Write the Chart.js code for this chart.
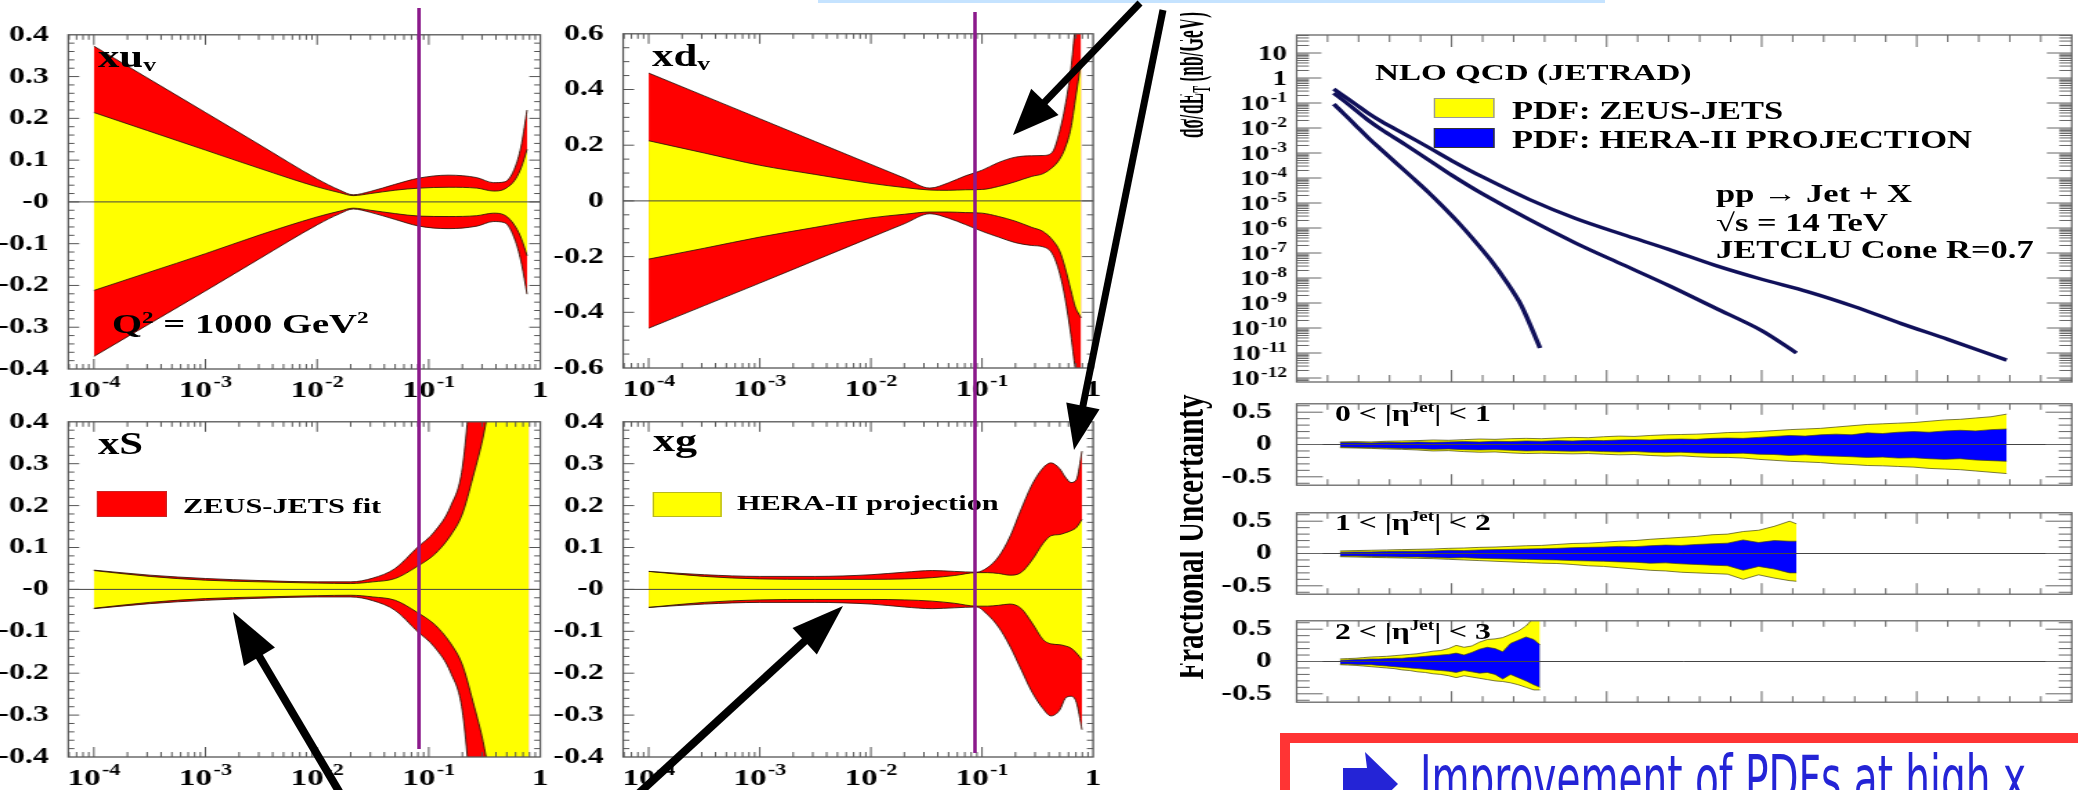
<!DOCTYPE html>
<html><head><meta charset="utf-8">
<script src="https://cdn.jsdelivr.net/npm/chart.js@4.4.1/dist/chart.umd.min.js"></script>
<style>
html,body{margin:0;padding:0;background:#fff;width:2078px;height:790px;overflow:hidden;position:relative;}
#wrap{position:absolute;left:0;top:0;height:790px;transform-origin:0 0;}
.box{position:absolute;}
.t{position:absolute;font-family:'Liberation Serif','Times New Roman',serif;font-weight:bold;color:#000;white-space:nowrap;line-height:1;}
.t sup{font-size:60%;vertical-align:0.6em;line-height:0;}
.t sub{font-size:60%;vertical-align:-0.25em;line-height:0;}
#ov{position:absolute;left:0;top:0;pointer-events:none;}
</style></head><body>
<div id="wrap"></div>
<div style="position:absolute;left:818px;top:0;width:787px;height:3px;background:#c5e3ff"></div>
<div id="redbox" style="position:absolute;left:1280px;top:733px;width:830px;height:120px;border:10px solid #ff3434;background:#fff;box-sizing:border-box"></div>
<div id="imp" style="position:absolute;left:1420px;top:747px;font-family:'DejaVu Sans Condensed','DejaVu Sans',sans-serif;font-size:64px;line-height:1;color:#2424d6;white-space:nowrap;transform-origin:0 0;">Improvement of PDFs at high x</div>
<svg id="ov" width="2078" height="790" xmlns="http://www.w3.org/2000/svg"></svg>
<script>
// ---------------- DATA ----------------
// tick labels ('^' separates base and exponent)
const xTickVals = [1e-4, 1e-3, 1e-2, 1e-1, 1];
const xTickLabels = ['10^-4', '10^-3', '10^-2', '10^-1', '1'];
const yTickVals4 = [-0.4, -0.3, -0.2, -0.1, 0, 0.1, 0.2, 0.3, 0.4];
const yTickLabels4 = ['-0.4', '-0.3', '-0.2', '-0.1', '-0', '0.1', '0.2', '0.3', '0.4'];
const yTickVals6 = [-0.6, -0.4, -0.2, 0, 0.2, 0.4, 0.6];
const yTickLabels6 = ['-0.6', '-0.4', '-0.2', '0', '0.2', '0.4', '0.6'];
const mainTickVals = [1e-12, 1e-11, 1e-10, 1e-9, 1e-8, 1e-7, 1e-6, 1e-5, 1e-4, 1e-3, 1e-2, 1e-1, 1, 10];
const mainTickLabels = ['10^-12', '10^-11', '10^-10', '10^-9', '10^-8', '10^-7', '10^-6', '10^-5', '10^-4', '10^-3', '10^-2', '10^-1', '1', '10'];
const subTickVals = [-0.5, 0, 0.5];
const subTickLabels = ['-0.5', '0', '0.5'];

// xu_v
const xsUV = [1e-4, 3e-4, 1e-3, 3e-3, 1e-2, 1.6e-2, 2.1e-2, 3e-2, 5e-2, 8.2e-2, 0.15, 0.27, 0.38, 0.48, 0.6, 0.68, 0.76];
const redUpUV = [0.373, 0.297, 0.214, 0.138, 0.055, 0.028, 0.017, 0.025, 0.042, 0.057, 0.064, 0.058, 0.046, 0.048, 0.086, 0.14, 0.22];
const yelUpUV = [0.214, 0.171, 0.124, 0.081, 0.036, 0.022, 0.015, 0.020, 0.028, 0.033, 0.035, 0.033, 0.026, 0.031, 0.055, 0.085, 0.126];
const redLoUV = [-0.370, -0.295, -0.213, -0.137, -0.055, -0.028, -0.017, -0.025, -0.042, -0.058, -0.064, -0.058, -0.047, -0.050, -0.095, -0.150, -0.221];
const yelLoUV = [-0.212, -0.170, -0.124, -0.080, -0.036, -0.022, -0.015, -0.020, -0.028, -0.034, -0.035, -0.033, -0.027, -0.032, -0.060, -0.090, -0.129];
// xd_v
const xsDV = [1e-4, 3.16e-4, 1e-3, 3.16e-3, 1e-2, 2e-2, 3.4e-2, 5e-2, 7.1e-2, 0.1, 0.141, 0.2, 0.28, 0.355, 0.43, 0.5, 0.56, 0.63, 0.69, 0.78];
const redUpDV = [0.459, 0.377, 0.295, 0.213, 0.131, 0.082, 0.046, 0.065, 0.09, 0.11, 0.138, 0.157, 0.162, 0.163, 0.175, 0.25, 0.34, 0.47, 0.62, 0.75];
const yelUpDV = [0.216, 0.172, 0.128, 0.095, 0.063, 0.048, 0.039, 0.038, 0.040, 0.041, 0.052, 0.069, 0.088, 0.098, 0.12, 0.15, 0.19, 0.26, 0.36, 0.50];
const redLoDV = [-0.457, -0.376, -0.295, -0.213, -0.131, -0.082, -0.046, -0.062, -0.085, -0.109, -0.13, -0.15, -0.16, -0.165, -0.19, -0.26, -0.35, -0.48, -0.6, -0.7];
const yelLoDV = [-0.209, -0.17, -0.13, -0.095, -0.061, -0.048, -0.04, -0.04, -0.042, -0.044, -0.056, -0.073, -0.095, -0.11, -0.14, -0.18, -0.24, -0.32, -0.38, -0.42];
// xS
const xsS = [1e-4, 3.16e-4, 1e-3, 3.16e-3, 1e-2, 2e-2, 3.16e-2, 5e-2, 7.9e-2, 0.112, 0.158, 0.2, 0.25, 0.316, 0.4, 0.5, 0.63, 0.79];
const redUpS = [0.046, 0.034, 0.026, 0.021, 0.018, 0.018, 0.027, 0.05, 0.1, 0.137, 0.2, 0.29, 0.55, 0.8, 1.1, 1.5, 1.9, 2.3];
const yelUpS = [0.045, 0.031, 0.022, 0.018, 0.015, 0.014, 0.018, 0.026, 0.055, 0.083, 0.13, 0.18, 0.27, 0.38, 0.55, 0.8, 1.2, 1.6];
const redLoS = [-0.046, -0.034, -0.026, -0.021, -0.018, -0.018, -0.027, -0.05, -0.1, -0.137, -0.2, -0.29, -0.55, -0.8, -1.1, -1.5, -1.9, -2.3];
const yelLoS = [-0.045, -0.031, -0.022, -0.018, -0.015, -0.014, -0.018, -0.026, -0.055, -0.083, -0.13, -0.18, -0.27, -0.38, -0.55, -0.8, -1.2, -1.6];
// xg
const xsG = [1e-4, 3.16e-4, 1e-3, 3.16e-3, 1e-2, 2e-2, 3.55e-2, 5.6e-2, 8.9e-2, 0.112, 0.141, 0.178, 0.224, 0.282, 0.355, 0.417, 0.5, 0.562, 0.631, 0.708, 0.794];
const redUpG = [0.043, 0.035, 0.031, 0.031, 0.035, 0.041, 0.045, 0.043, 0.041, 0.052, 0.078, 0.125, 0.19, 0.25, 0.29, 0.302, 0.288, 0.268, 0.255, 0.262, 0.33];
const yelUpG = [0.043, 0.031, 0.025, 0.024, 0.024, 0.025, 0.028, 0.033, 0.040, 0.040, 0.038, 0.034, 0.040, 0.070, 0.110, 0.128, 0.131, 0.135, 0.140, 0.148, 0.167];
const redLoG = [-0.043, -0.035, -0.031, -0.031, -0.035, -0.042, -0.046, -0.044, -0.042, -0.06, -0.09, -0.135, -0.19, -0.245, -0.285, -0.302, -0.288, -0.26, -0.255, -0.27, -0.335];
const yelLoG = [-0.043, -0.031, -0.025, -0.024, -0.024, -0.025, -0.028, -0.033, -0.040, -0.040, -0.038, -0.035, -0.045, -0.080, -0.120, -0.130, -0.132, -0.135, -0.140, -0.152, -0.168];

// jet cross sections (E_T in GeV, dσ/dE_T in nb/GeV)
const etEta01 = [240, 300, 380, 460, 550, 700, 850, 1000, 1200, 1500, 1800, 2100, 2400, 2700, 3000, 3300, 3600, 3900, 4200, 4580];
const xsecEta01 = [0.36, 0.2, 0.09, 0.04, 0.018, 5.6e-3, 1.7e-3, 5.0e-4, 1.1e-4, 1.4e-5, 2.4e-6, 5.6e-7, 1.4e-7, 3.2e-8, 8.9e-9, 2.8e-9, 7.1e-10, 1.5e-10, 3.5e-11, 5.2e-12];
const etEta12 = [240, 300, 380, 460, 550, 700, 850, 1000, 1200, 1500, 1800, 2100, 2400, 2700, 3000, 3224];
const xsecEta12 = [0.25, 0.13, 0.052, 0.021, 8.5e-3, 2.2e-3, 5.4e-4, 1.3e-4, 2.3e-5, 2.2e-6, 2.5e-7, 3.5e-8, 5.0e-9, 6.3e-10, 7.9e-11, 1.0e-11];
const etEta23 = [240, 300, 380, 460, 550, 650, 750, 850, 950, 1050, 1150, 1250, 1350, 1450, 1570];
const xsecEta23 = [0.09, 0.04, 0.013, 4.2e-3, 1.3e-3, 3.6e-4, 1.0e-4, 2.7e-5, 6.6e-6, 1.5e-6, 3.0e-7, 5.4e-8, 7.6e-9, 7.9e-10, 1.6e-11];

// fractional uncertainties
const etFrac1 = [280,380,480,580,680,780,880,980,1080,1180,1280,1380,1480,1580,1680,1780,1880,1980,2080,2180,2280,2380,2480,2580,2680,2780,2880,2980,3080,3180,3280,3380,3480,3580,3680,3780,3880,3980,4080,4180,4280,4380,4480,4580];
const zeusUp1 = [.04,.045,.04,.05,.055,.06,.07,.065,.075,.085,.08,.09,.095,.09,.1,.11,.105,.12,.13,.125,.14,.15,.155,.16,.17,.185,.19,.2,.215,.23,.24,.25,.27,.29,.31,.32,.33,.34,.36,.38,.39,.41,.43,.47];
const heraUp1 = [.03,.03,.025,.035,.03,.04,.035,.04,.045,.04,.05,.045,.055,.05,.06,.055,.065,.06,.07,.075,.07,.08,.085,.08,.095,.1,.095,.11,.125,.14,.13,.15,.16,.15,.18,.17,.19,.2,.19,.21,.22,.21,.23,.24];
const heraLo1 = [-.04,-.045,-.05,-.055,-.06,-.065,-.075,-.07,-.08,-.085,-.08,-.09,-.1,-.095,-.1,-.105,-.1,-.11,-.115,-.11,-.12,-.125,-.12,-.13,-.135,-.14,-.135,-.15,-.155,-.17,-.16,-.175,-.18,-.19,-.2,-.195,-.21,-.205,-.22,-.23,-.22,-.24,-.25,-.26];
const zeusLo1 = [-.05,-.055,-.06,-.07,-.075,-.085,-.1,-.095,-.11,-.12,-.115,-.13,-.14,-.135,-.14,-.145,-.14,-.15,-.16,-.155,-.17,-.18,-.175,-.19,-.2,-.2,-.21,-.23,-.245,-.26,-.27,-.28,-.3,-.31,-.325,-.33,-.34,-.35,-.37,-.38,-.39,-.41,-.43,-.45];
const etFrac2 = [280,380,480,580,680,780,880,980,1080,1180,1280,1380,1480,1580,1680,1780,1880,1980,2080,2180,2280,2380,2480,2580,2680,2780,2880,2980,3080,3180,3224];
const zeusUp2 = [.04,.045,.05,.055,.06,.065,.07,.08,.085,.095,.1,.11,.12,.125,.14,.155,.16,.175,.19,.2,.22,.235,.25,.265,.29,.3,.34,.36,.42,.5,.46];
const heraUp2 = [.02,.025,.025,.03,.035,.035,.04,.05,.045,.055,.06,.065,.07,.075,.08,.09,.095,.1,.11,.105,.12,.13,.125,.14,.15,.16,.21,.17,.2,.19,.19];
const heraLo2 = [-.04,-.04,-.045,-.05,-.055,-.055,-.06,-.07,-.065,-.075,-.08,-.085,-.09,-.095,-.1,-.11,-.115,-.12,-.13,-.135,-.15,-.145,-.16,-.17,-.18,-.19,-.26,-.2,-.24,-.3,-.3];
const zeusLo2 = [-.05,-.055,-.06,-.065,-.07,-.075,-.08,-.09,-.1,-.11,-.12,-.13,-.14,-.15,-.155,-.17,-.19,-.2,-.22,-.24,-.26,-.27,-.29,-.3,-.31,-.32,-.4,-.33,-.38,-.42,-.43];
const etFrac3 = [280,330,380,430,480,530,580,630,680,730,780,830,880,930,980,1030,1080,1130,1180,1230,1280,1330,1380,1430,1480,1530,1570];
const zeusUp3 = [.04,.045,.05,.06,.07,.075,.08,.09,.1,.11,.12,.14,.16,.17,.2,.25,.22,.24,.3,.34,.35,.37,.42,.47,.55,.68,.7];
const heraUp3 = [.02,.025,.03,.035,.04,.04,.045,.05,.05,.06,.07,.08,.09,.1,.11,.13,.1,.14,.19,.22,.2,.15,.28,.33,.38,.34,.26];
const heraLo3 = [-.04,-.04,-.045,-.05,-.05,-.06,-.07,-.08,-.09,-.1,-.11,-.12,-.13,-.14,-.15,-.17,-.14,-.16,-.18,-.17,-.2,-.27,-.2,-.25,-.3,-.36,-.4];
const zeusLo3 = [-.05,-.055,-.06,-.07,-.08,-.09,-.1,-.11,-.13,-.14,-.16,-.17,-.19,-.2,-.22,-.25,-.22,-.24,-.26,-.28,-.3,-.31,-.33,-.36,-.4,-.44,-.44];

// ---------------- LAYOUT / RENDER ----------------
const S = 1.38; // horizontal stretch of the original slide image
const wrap = document.getElementById('wrap');
wrap.style.width = (2078 / S) + 'px';
wrap.style.transform = 'scaleX(' + S + ')';
const FONT = "'Liberation Serif','Times New Roman',serif";
const RED = '#ff0000', YEL = '#ffff00', BLUE = '#0000ff';

function pts(xs, ys) { return xs.map((x, i) => ({ x: x, y: ys[i] })); }
function logTicks(a, b) { const r = []; for (let e = Math.floor(a); e <= Math.ceil(b); e++) for (let m = 1; m < 10; m++) { const v = m * Math.pow(10, e), l = Math.log10(v); if (l >= a - 1e-9 && l <= b + 1e-9) r.push({ v: v, major: m === 1 }); } return r; }
function linTicks(a, b, step, every) { const r = []; for (let i = Math.ceil(a / step - 1e-9); i <= Math.floor(b / step + 1e-9); i++) r.push({ v: i * step, major: i % every === 0 }); return r; }

const rootFrame = {
  id: 'rootFrame',
  afterDatasetsDraw(chart, args, o) {
    const ctx = chart.ctx, a = chart.chartArea, x = chart.scales.x, y = chart.scales.y;
    ctx.save();
    ctx.beginPath(); ctx.rect(a.left - 1, a.top - 1, a.right - a.left + 2, a.bottom - a.top + 2); ctx.clip();
    ctx.lineWidth = 1;
    if (o.zero) { ctx.strokeStyle = '#444'; const p = y.getPixelForValue(0); ctx.beginPath(); ctx.moveTo(a.left, p); ctx.lineTo(a.right, p); ctx.stroke(); }
    ctx.strokeStyle = o.color;
    ctx.beginPath();
    for (const t of o.xt) { const p = x.getPixelForValue(t.v); if (p < a.left + 0.5 || p > a.right - 0.5) continue; const L = t.major ? o.xMaj : o.xMin; ctx.moveTo(p, a.bottom); ctx.lineTo(p, a.bottom - L); ctx.moveTo(p, a.top); ctx.lineTo(p, a.top + L); }
    for (const t of o.yt) { const p = y.getPixelForValue(t.v); if (p < a.top + 0.5 || p > a.bottom - 0.5) continue; const L = t.major ? o.yMaj : o.yMin; ctx.moveTo(a.left, p); ctx.lineTo(a.left + L, p); ctx.moveTo(a.right, p); ctx.lineTo(a.right - L, p); }
    ctx.stroke();
    ctx.lineWidth = 1.3; ctx.strokeRect(a.left, a.top, a.right - a.left, a.bottom - a.top);
    ctx.restore();
  }
};

// tick labels with real superscript exponents, placed through the chart's own scale
const supLabels = {
  id: 'supLabels',
  afterDraw(chart, args, o) {
    if (!o.axis) return;
    const sc = chart.scales[o.axis], ctx = chart.ctx, a = chart.chartArea;
    ctx.save(); ctx.fillStyle = '#000'; ctx.textBaseline = 'alphabetic'; ctx.textAlign = 'left';
    o.vals.forEach((v, i) => {
      const parts = o.labels[i].split('^'), b = parts[0], e = parts[1] || '';
      const p = sc.getPixelForValue(v);
      ctx.font = 'bold ' + o.size + 'px ' + FONT; const wb = ctx.measureText(b).width;
      ctx.font = 'bold ' + o.esize + 'px ' + FONT; const we = e ? ctx.measureText(e).width + 1 : 0;
      const W = wb + we; let x0, yb;
      if (o.axis === 'x') { x0 = p - W / 2; yb = a.bottom + o.off; }
      else { x0 = a.left - o.off - W; yb = p + o.size * 0.33; }
      ctx.font = 'bold ' + o.size + 'px ' + FONT; ctx.fillText(b, x0, yb);
      if (e) { ctx.font = 'bold ' + o.esize + 'px ' + FONT; ctx.fillText(e, x0 + wb + 1, yb - o.size * 0.4); }
    });
    ctx.restore();
  }
};

function makeBox(L, R, T, B, yW, padT, padR, padB) {
  const d = document.createElement('div'); d.className = 'box';
  d.style.left = ((L - yW) / S) + 'px'; d.style.top = (T - padT) + 'px';
  d.style.width = ((R - L + yW) / S + padR) + 'px'; d.style.height = (B - T + padT + padB) + 'px';
  const c = document.createElement('canvas'); d.appendChild(c); wrap.appendChild(d); return c;
}

function band(xs, up, lo, color, smooth, bw) {
  const base = { pointRadius: 0, borderWidth: bw, borderColor: 'rgba(40,20,10,0.85)', backgroundColor: color, cubicInterpolationMode: smooth ? 'monotone' : 'default', tension: 0 };
  return [Object.assign({ data: pts(xs, up), fill: '+1' }, base), Object.assign({ data: pts(xs, lo), fill: false }, base)];
}

function pdfPanel(L, R, T, B, yW, yMax, yVals, yLabels, xs, rU, rL, yU, yL, yStep, yEvery) {
  const padT = 16, padR = 14, xH = 40;
  const c = makeBox(L, R, T, B, yW, padT, padR, xH);
  const xmin = Math.pow(10, -4.23);
  new Chart(c, {
    type: 'line',
    data: { datasets: [].concat(band(xs, yU, yL, YEL, true, 1), band(xs, rU, rL, RED, true, 1)) },
    options: {
      responsive: true, maintainAspectRatio: false, animation: false, events: [],
      layout: { padding: { top: padT, right: padR, left: 0, bottom: 0 } },
      plugins: { legend: { display: false }, tooltip: { enabled: false }, filler: { drawTime: 'beforeDatasetsDraw' },
        rootFrame: { zero: true, color: '#555', xt: logTicks(-4.23, 0), yt: linTicks(-yMax, yMax, yStep, yEvery), xMaj: 10, xMin: 5, yMaj: 8, yMin: 4.5 },
        supLabels: { axis: 'x', vals: xTickVals, labels: xTickLabels, size: 24, esize: 16, off: 28 } },
      scales: {
        x: { type: 'logarithmic', min: xmin, max: 1, grid: { display: false }, border: { display: false },
          afterBuildTicks: s => { s.ticks = xTickVals.map(v => ({ value: v })); },
          afterFit: s => { s.height = xH; },
          ticks: { display: false } },
        y: { type: 'linear', min: -yMax, max: yMax, grid: { display: false }, border: { display: false },
          afterBuildTicks: s => { s.ticks = yVals.map(v => ({ value: v })); },
          afterFit: s => { s.width = yW / S; },
          ticks: { autoSkip: false, padding: 6, color: '#000', font: { family: FONT, size: 23, weight: 'bold' }, callback: (v, i) => yLabels[i] } }
      }
    },
    plugins: [rootFrame, supLabels]
  });
}

pdfPanel(68, 539, 31, 369, 68, 0.4, yTickVals4, yTickLabels4, xsUV, redUpUV, redLoUV, yelUpUV, yelLoUV, 0.02, 5);
pdfPanel(623, 1093, 30, 368, 78, 0.6, yTickVals6, yTickLabels6, xsDV, redUpDV, redLoDV, yelUpDV, yelLoDV, 0.05, 4);
pdfPanel(68, 539, 418, 757, 68, 0.4, yTickVals4, yTickLabels4, xsS, redUpS, redLoS, yelUpS, yelLoS, 0.02, 5);
pdfPanel(623, 1093, 418, 757, 78, 0.4, yTickVals4, yTickLabels4, xsG, redUpG, redLoG, yelUpG, yelLoG, 0.02, 5);

// main cross-section panel
(function () {
  const L = 1297, R = 2071, T = 35, B = 382, yW = 82, padT = 14, padR = 4, padB = 14;
  const c = makeBox(L, R, T, B, yW, padT, padR, padB);
  const line = (xs, ys) => ({ data: pts(xs, ys), borderColor: '#10105a', borderWidth: 3.4, pointRadius: 0, fill: false, tension: 0.3 });
  new Chart(c, {
    type: 'line',
    data: { datasets: [line(etEta01, xsecEta01), line(etEta12, xsecEta12), line(etEta23, xsecEta23)] },
    options: {
      responsive: true, maintainAspectRatio: false, animation: false, events: [],
      layout: { padding: { top: padT, right: padR, left: 0, bottom: padB } },
      plugins: { legend: { display: false }, tooltip: { enabled: false },
        rootFrame: { zero: false, color: '#666', xt: linTicks(0, 5000, 200, 5), yt: logTicks(-12.16, 1.72), xMaj: 12, xMin: 7, yMaj: 18, yMin: 9 },
        supLabels: { axis: 'y', vals: mainTickVals, labels: mainTickLabels, size: 21, esize: 14, off: 7 } },
      scales: {
        x: { type: 'linear', min: 0, max: 5000, display: false },
        y: { type: 'logarithmic', min: Math.pow(10, -12.16), max: Math.pow(10, 1.72), grid: { display: false }, border: { display: false },
          afterBuildTicks: s => { s.ticks = mainTickVals.map(v => ({ value: v })); },
          afterFit: s => { s.width = yW / S; },
          ticks: { display: false } }
      }
    },
    plugins: [rootFrame, supLabels]
  });
})();

function fracPanel(T, B, et, zU, zL, hU, hL) {
  const L = 1297, R = 2071, yW = 82, padT = 13, padR = 4, padB = 13;
  const c = makeBox(L, R, T, B, yW, padT, padR, padB);
  const bs = (up, lo, col) => [
    { data: pts(et, up), fill: '+1', backgroundColor: col, borderColor: 'rgba(70,70,20,0.9)', borderWidth: 0.8, pointRadius: 0, tension: 0 },
    { data: pts(et, lo), fill: false, backgroundColor: col, borderColor: 'rgba(70,70,20,0.9)', borderWidth: 0.8, pointRadius: 0, tension: 0 }];
  new Chart(c, {
    type: 'line',
    data: { datasets: [].concat(bs(hU, hL, BLUE), bs(zU, zL, YEL)) },
    options: {
      responsive: true, maintainAspectRatio: false, animation: false, events: [],
      layout: { padding: { top: padT, right: padR, left: 0, bottom: padB } },
      plugins: { legend: { display: false }, tooltip: { enabled: false }, filler: { drawTime: 'beforeDatasetsDraw' },
        rootFrame: { zero: true, color: '#666', xt: linTicks(0, 5000, 200, 5), yt: linTicks(-0.63, 0.63, 0.1, 5), xMaj: 11, xMin: 6, yMaj: 19, yMin: 9.5 } },
      scales: {
        x: { type: 'linear', min: 0, max: 5000, display: false },
        y: { type: 'linear', min: -0.63, max: 0.63, grid: { display: false }, border: { display: false },
          afterBuildTicks: s => { s.ticks = subTickVals.map(v => ({ value: v })); },
          afterFit: s => { s.width = yW / S; },
          ticks: { autoSkip: false, padding: 10, color: '#000', font: { family: FONT, size: 23, weight: 'bold' }, callback: (v, i) => subTickLabels[i] } }
      }
    },
    plugins: [rootFrame]
  });
}
fracPanel(393, 496, etFrac1, zeusUp1, zeusLo1, heraUp1, heraLo1);
fracPanel(502, 605, etFrac2, zeusUp2, zeusLo2, heraUp2, heraLo2);
fracPanel(610, 713, etFrac3, zeusUp3, zeusLo3, heraUp3, heraLo3);

// ---------------- TEXT ----------------
function txt(html, X, Yc, size) {
  const d = document.createElement('div'); d.className = 't'; d.innerHTML = html;
  d.style.left = (X / S) + 'px'; d.style.top = Yc + 'px'; d.style.fontSize = size + 'px';
  d.style.transform = 'translateY(-50%)';
  wrap.appendChild(d); return d;
}
function rect(X1, X2, Y1, Y2, col, bcol) {
  const d = document.createElement('div'); d.className = 'box';
  d.style.left = (X1 / S) + 'px'; d.style.top = Y1 + 'px'; d.style.width = ((X2 - X1) / S) + 'px'; d.style.height = (Y2 - Y1) + 'px';
  d.style.background = col; d.style.boxSizing = 'border-box'; d.style.border = '1px solid ' + bcol; wrap.appendChild(d);
}
txt('xu<sub>v</sub>', 98, 56, 31);
txt('xd<sub>v</sub>', 652, 55, 31);
txt('xS', 98, 443, 31);
txt('xg', 653, 440, 32);
txt('Q<sup>2</sup> = 1000 GeV<sup>2</sup>', 112, 324, 28);
rect(97, 167, 491, 517, RED, '#cc2222');
txt('ZEUS-JETS fit', 183, 506, 22);
rect(653, 722, 492, 517, YEL, '#b8b820');
txt('HERA-II projection', 737, 503, 22);

txt('NLO QCD (JETRAD)', 1375, 72, 24);
rect(1434, 1494, 98, 118, YEL, '#999');
rect(1434, 1494, 128, 148, BLUE, '#333');
txt('PDF: ZEUS-JETS', 1512, 110, 25);
txt('PDF: HERA-II PROJECTION', 1512, 139, 25);
txt('pp → Jet + X', 1716, 193, 25);
txt('√s = 14 TeV', 1716, 222, 25);
txt('JETCLU Cone R=0.7', 1716, 249, 25);
txt('0 &lt; |η<sup>Jet</sup>| &lt; 1', 1335, 413, 23);
txt('1 &lt; |η<sup>Jet</sup>| &lt; 2', 1335, 522, 23);
txt('2 &lt; |η<sup>Jet</sup>| &lt; 3', 1335, 631, 23);

// rotated axis titles, clipped on the left like the original picture
const clip = document.createElement('div'); clip.className = 'box';
clip.style.left = (1180 / S) + 'px'; clip.style.top = '0px'; clip.style.width = (60 / S) + 'px'; clip.style.height = '790px'; clip.style.overflow = 'hidden';
wrap.appendChild(clip);
function rot(html, Xc, Yc, size, squeeze) {
  const d = document.createElement('div'); d.className = 't'; d.innerHTML = html;
  d.style.left = ((Xc - 1180) / S) + 'px'; d.style.top = Yc + 'px'; d.style.fontSize = size + 'px';
  d.style.transform = 'translate(-50%,-50%) rotate(-90deg) scaleX(' + squeeze + ')'; clip.appendChild(d);
}
rot('dσ/dE<sub>T</sub> (nb/GeV)', 1189, 75, 30, 0.58);
rot('Fractional Uncertainty', 1189, 537, 30, 0.97);

// improvement text fit
const imp = document.getElementById('imp');
const iw = imp.getBoundingClientRect().width;
imp.style.transform = 'scaleX(' + (606 / iw) + ')';

// ---------------- OVERLAY (purple lines, arrows) ----------------
const svg = document.getElementById('ov'), NS = 'http://www.w3.org/2000/svg';
function el(tag, attrs) { const e = document.createElementNS(NS, tag); for (const k in attrs) e.setAttribute(k, attrs[k]); svg.appendChild(e); return e; }
el('line', { x1: 419, y1: 8, x2: 419, y2: 749, stroke: '#8b1a8b', 'stroke-width': 3.5 });
el('line', { x1: 975, y1: 12, x2: 975, y2: 753, stroke: '#8b1a8b', 'stroke-width': 3.5 });
function arrow(x1, y1, x2, y2, hl, hw, w) {
  const dx = x2 - x1, dy = y2 - y1, L = Math.hypot(dx, dy), ux = dx / L, uy = dy / L;
  const bx = x2 - ux * hl, by = y2 - uy * hl;
  el('line', { x1: x1, y1: y1, x2: bx + ux * 3, y2: by + uy * 3, stroke: '#000', 'stroke-width': w });
  el('polygon', { points: [x2, y2, bx - uy * hw, by + ux * hw, bx + uy * hw, by - ux * hw].join(' '), fill: '#000' });
}
arrow(1140, 3, 1013, 135, 46, 19, 7);
arrow(1163, 10, 1074, 450, 45, 17, 7);
arrow(347, 805, 233, 612, 52, 18, 8);
arrow(626, 805, 843, 606, 52, 18, 8);
// symbol arrow in the box
el('polygon', { points: '1343,768 1367,768 1365,752 1398,784 1365,816 1367,800 1343,800', fill: '#2424d6' });
</script>
</body></html>
